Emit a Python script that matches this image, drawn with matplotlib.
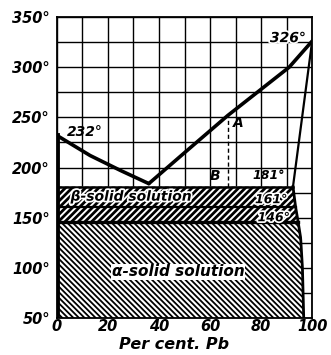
import numpy as np
import matplotlib
matplotlib.use("Agg")
import matplotlib.pyplot as plt
import matplotlib.patheffects as pe

# liquidus, solidus and solvus (per cent Pb, deg C)
liq_left_x = [0, 13, 25, 36]
liq_left_t = [232, 212, 197, 184]
liq_right_x = [36, 51, 67, 91, 100]
liq_right_t = [184, 217, 252, 300, 326]
solidus_x = [92.5, 100]
solidus_t = [181, 326]
solvus_t = [181, 161, 146, 130, 100, 50]
solvus_x = [92.5, 93.5, 94.5, 95.5, 96.2, 96.7]
band_temps = [181, 161, 146]
point_a = (67, 252)

x_ticks = [0, 20, 40, 60, 80, 100]
y_ticks = [50, 100, 150, 200, 250, 300, 350]

font = dict(family="DejaVu Sans", weight="bold", style="italic")

fig = plt.figure(figsize=(3.31, 3.55), dpi=100)
ax = fig.add_axes([0.172, 0.104, 0.771, 0.848])
ax.set_xlim(0, 100)
ax.set_ylim(50, 350)

# grid
for gx in np.arange(0, 101, 10):
    ax.axvline(gx, color="black", lw=1.0, zorder=1)
for gy in np.arange(50, 351, 25):
    ax.axhline(gy, color="black", lw=1.0, zorder=1)


def right_edge(t):
    return np.interp(t, solvus_t[::-1], solvus_x[::-1])


def hatched(t_lo, t_hi, hatch, hlw):
    tt = np.linspace(t_lo, t_hi, 40)
    with plt.rc_context({"hatch.linewidth": hlw}):
        p = ax.fill_betweenx(tt, 0, right_edge(tt), facecolor="white",
                             edgecolor="black", linewidth=0, hatch=hatch, zorder=2)
        if hasattr(p, "set_hatch_linewidth"):
            p.set_hatch_linewidth(hlw)
    return p


hatched(50, band_temps[2], "\\" * 6, 1.3)
hatched(band_temps[2], band_temps[1], "/" * 5, 2.0)
hatched(band_temps[1], band_temps[0], "/" * 5, 2.0)

# band edges
for t, lw in zip(band_temps, [1.8, 1.6, 2.4]):
    ax.plot([0, right_edge(t)], [t, t], color="black", lw=lw, zorder=3)
tt = np.linspace(50, 181, 40)
ax.plot(right_edge(tt), tt, color="black", lw=2.0, zorder=3)

# curves
ax.plot(liq_left_x, liq_left_t, color="black", lw=2.6, zorder=4, solid_capstyle="round")
ax.plot(liq_right_x, liq_right_t, color="black", lw=2.6, zorder=4, solid_capstyle="round")
ax.plot(solidus_x, solidus_t, color="black", lw=1.6, zorder=4)
ax.plot([0, 0], [50, liq_left_t[0]], color="black", lw=3.5, zorder=4)
ax.plot([point_a[0], point_a[0]], [band_temps[0], point_a[1]], color="black",
        lw=1.0, ls=(0, (3, 2)), zorder=4)

# labels
wh = [pe.withStroke(linewidth=2.5, foreground="white")]
ax.text(11, 235, "232°", fontsize=10, ha="center", va="center", zorder=5, **font)
ax.text(90.5, 329, "326°", fontsize=10, ha="center", va="center", zorder=5,
        path_effects=wh, **font)
ax.text(71, 244, "A", fontsize=10, ha="center", va="center", zorder=5, **font)
ax.text(62, 192, "B", fontsize=10, ha="center", va="center", zorder=5, **font)
ax.text(83, 192, "181°", fontsize=9, ha="center", va="center", zorder=5, **font)
ax.text(84, 168, "161°", fontsize=9, ha="center", va="center", zorder=5,
        path_effects=wh, **font)
ax.text(85, 150, "146°", fontsize=9, ha="center", va="center", zorder=5,
        path_effects=wh, **font)
ax.text(29, 171, "β-solid solution", fontsize=10, ha="center", va="center", zorder=5,
        path_effects=wh, **font)
ax.text(47.5, 96, "α-solid solution", fontsize=11, ha="center", va="center", zorder=5,
        bbox=dict(facecolor="white", edgecolor="none", pad=0.5), **font)

ax.set_xticks(x_ticks)
ax.set_xticklabels([str(v) for v in x_ticks], fontsize=10.5, **font)
ax.set_yticks(y_ticks)
ax.set_yticklabels([f"{v}°" for v in y_ticks], fontsize=10.5, **font)
ax.tick_params(axis="x", length=0, pad=1)
ax.tick_params(axis="y", length=0, pad=5)
ax.set_xlabel("Per cent. Pb", fontsize=11.5, **font)
ax.xaxis.set_label_coords(0.46, -0.063)
for s in ax.spines.values():
    s.set_linewidth(1.3)
    s.set_zorder(6)

fig.savefig("out.png", dpi=100)
